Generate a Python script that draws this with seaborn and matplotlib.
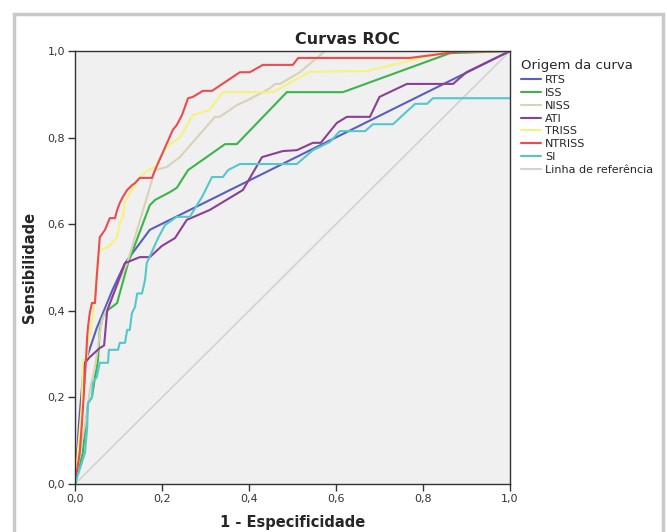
import numpy as np
import pandas as pd
import matplotlib
matplotlib.use("Agg")
import matplotlib.pyplot as plt
import seaborn as sns
from matplotlib.lines import Line2D
from matplotlib.patches import Rectangle

# curve points (x = 1 - especificidade, y = sensibilidade)
rts_x = [0, 0.01, 0.02, 0.05, 0.087, 0.115, 0.172, 1.0]
rts_y = [0, 0.15, 0.27, 0.36, 0.45, 0.51, 0.587, 1.0]

iss_x = [0, 0.018, 0.03, 0.039, 0.046, 0.053, 0.057, 0.064, 0.076, 0.097, 0.103, 0.122,
         0.172, 0.184, 0.218, 0.234, 0.26, 0.287, 0.345, 0.372, 0.487, 0.616, 0.862, 1.0]
iss_y = [0, 0.072, 0.187, 0.2, 0.247, 0.286, 0.356, 0.386, 0.402, 0.418, 0.441, 0.51,
         0.644, 0.656, 0.674, 0.684, 0.725, 0.744, 0.785, 0.785, 0.905, 0.905, 0.995, 1.0]

niss_x = [0, 0.016, 0.028, 0.034, 0.046, 0.062, 0.12, 0.184, 0.211, 0.241, 0.287, 0.322,
          0.333, 0.372, 0.402, 0.448, 0.46, 0.471, 0.517, 0.556, 0.575, 1.0]
niss_y = [0, 0.1, 0.164, 0.217, 0.27, 0.379, 0.51, 0.725, 0.732, 0.755, 0.808, 0.848,
          0.848, 0.875, 0.889, 0.914, 0.924, 0.924, 0.951, 0.984, 1.0, 1.0]

ati_x = [0, 0.023, 0.034, 0.057, 0.067, 0.074, 0.115, 0.149, 0.172, 0.2, 0.23, 0.257,
         0.31, 0.386, 0.43, 0.478, 0.51, 0.547, 0.565, 0.602, 0.625, 0.678, 0.7, 0.763,
         0.869, 0.9, 1.0]
ati_y = [0, 0.28, 0.293, 0.314, 0.32, 0.4, 0.51, 0.524, 0.524, 0.55, 0.568, 0.61,
         0.633, 0.679, 0.755, 0.769, 0.771, 0.788, 0.788, 0.834, 0.848, 0.848, 0.894, 0.924,
         0.924, 0.951, 1.0]

triss_x = [0, 0.011, 0.016, 0.018, 0.028, 0.03, 0.041, 0.046, 0.05, 0.057, 0.076, 0.097,
           0.103, 0.11, 0.115, 0.126, 0.138, 0.149, 0.168, 0.184, 0.211, 0.241, 0.271,
           0.31, 0.34, 0.455, 0.54, 0.671, 0.855, 1.0]
triss_y = [0, 0.125, 0.187, 0.286, 0.293, 0.326, 0.386, 0.432, 0.487, 0.54, 0.547, 0.57,
           0.603, 0.617, 0.651, 0.672, 0.69, 0.709, 0.725, 0.732, 0.78, 0.8, 0.852,
           0.864, 0.905, 0.905, 0.952, 0.954, 0.998, 1.0]

ntriss_x = [0, 0.011, 0.016, 0.018, 0.025, 0.028, 0.03, 0.034, 0.039, 0.046, 0.05, 0.057,
            0.069, 0.08, 0.092, 0.097, 0.103, 0.11, 0.12, 0.131, 0.138, 0.149, 0.177,
            0.184, 0.225, 0.234, 0.246, 0.26, 0.271, 0.294, 0.315, 0.379, 0.402, 0.432,
            0.501, 0.513, 0.77, 0.878, 1.0]
ntriss_y = [0, 0.072, 0.141, 0.171, 0.28, 0.34, 0.363, 0.395, 0.418, 0.418, 0.478, 0.57,
            0.587, 0.614, 0.614, 0.633, 0.649, 0.663, 0.679, 0.69, 0.695, 0.707, 0.707,
            0.725, 0.818, 0.829, 0.852, 0.891, 0.894, 0.908, 0.908, 0.951, 0.951, 0.968,
            0.968, 0.984, 0.984, 0.998, 1.0]

si_x = [0, 0.023, 0.028, 0.03, 0.039, 0.041, 0.05, 0.057, 0.076, 0.078, 0.099, 0.103,
        0.115, 0.12, 0.126, 0.131, 0.138, 0.143, 0.154, 0.161, 0.165, 0.191, 0.207,
        0.234, 0.264, 0.292, 0.315, 0.34, 0.352, 0.379, 0.51, 0.547, 0.586, 0.609,
        0.667, 0.685, 0.731, 0.782, 0.809, 0.823, 1.0]
si_y = [0, 0.072, 0.13, 0.187, 0.2, 0.233, 0.247, 0.28, 0.28, 0.31, 0.31, 0.326,
        0.326, 0.356, 0.356, 0.395, 0.409, 0.44, 0.44, 0.471, 0.51, 0.568, 0.598,
        0.617, 0.617, 0.663, 0.709, 0.709, 0.725, 0.739, 0.739, 0.771, 0.79, 0.815,
        0.815, 0.831, 0.831, 0.878, 0.878, 0.891, 0.891]

ref_x = [0, 1]
ref_y = [0, 1]

names = ["RTS", "ISS", "NISS", "ATI", "TRISS", "NTRISS", "SI", "Linha de referência"]
colors = ["#5a5ec0", "#3ab54a", "#d8d2b6", "#8c3f96", "#f6f27c", "#ec4b50", "#52c8cc", "#d2d2d2"]
series = [(rts_x, rts_y), (iss_x, iss_y), (niss_x, niss_y), (ati_x, ati_y),
          (triss_x, triss_y), (ntriss_x, ntriss_y), (si_x, si_y), (ref_x, ref_y)]

frames = []
for name, (xs, ys) in zip(names, series):
    frames.append(pd.DataFrame({"fpr": xs, "tpr": ys, "curva": name,
                                "ordem": np.arange(len(xs))}))
df = pd.concat(frames, ignore_index=True)

sns.set_style("ticks")
plt.rcParams["font.family"] = ["DejaVu Sans"]

fig = plt.figure(figsize=(6.67, 5.32), dpi=100)
ax = fig.add_axes([0.1124, 0.0902, 0.6522, 0.8139])
ax.set_facecolor("#f0f0f0")

# reference line first so it sits underneath
sns.lineplot(data=df[df["curva"] == names[-1]], x="fpr", y="tpr", color=colors[-1],
             linewidth=1.2, sort=False, estimator=None, ax=ax, legend=False)
sns.lineplot(data=df[df["curva"] != names[-1]], x="fpr", y="tpr", hue="curva",
             hue_order=names[:-1], palette=colors[:-1], units="curva", sort=False,
             estimator=None, linewidth=1.5, ax=ax, legend=False)

ax.set_xlim(0, 1)
ax.set_ylim(0, 1)
ticks = [0, 0.2, 0.4, 0.6, 0.8, 1.0]
ax.set_xticks(ticks)
ax.set_yticks(ticks)
ax.set_xticklabels([f"{t:.1f}".replace(".", ",") for t in ticks], fontsize=8, color="#333333")
ax.set_yticklabels([f"{t:.1f}".replace(".", ",") for t in ticks], fontsize=8, color="#333333")
ax.tick_params(direction="out", length=5, width=1, color="#333333", pad=2)
for s in ax.spines.values():
    s.set_color("#333333")
    s.set_linewidth(1.0)

ax.set_xlabel("1 - Especificidade", fontsize=10.5, fontweight="bold", labelpad=8)
ax.set_ylabel("Sensibilidade", fontsize=10.5, fontweight="bold", labelpad=8)
fig.text(347 / 667, 1 - 39 / 532, "Curvas ROC", fontsize=11.5, fontweight="bold",
         ha="center", va="center")

handles = [Line2D([0], [0], color=c, linewidth=1.5) for c in colors]
leg = fig.legend(handles, names, title="Origem da curva", loc="upper left",
                 bbox_to_anchor=(517 / 667, 1 - 55 / 532), frameon=False, fontsize=8,
                 title_fontsize=9.5, handlelength=1.8, handletextpad=0.3,
                 labelspacing=0.25, borderaxespad=0)
leg._legend_box.align = "left"

# grey outer frame of the figure
fig.patches.append(Rectangle((14 / 667, -0.05), (663 - 14) / 667, 1.05 - 14 / 532,
                             transform=fig.transFigure, fill=False,
                             edgecolor="#c8c8c8", linewidth=2.5))

fig.savefig("out.png", dpi=100)
